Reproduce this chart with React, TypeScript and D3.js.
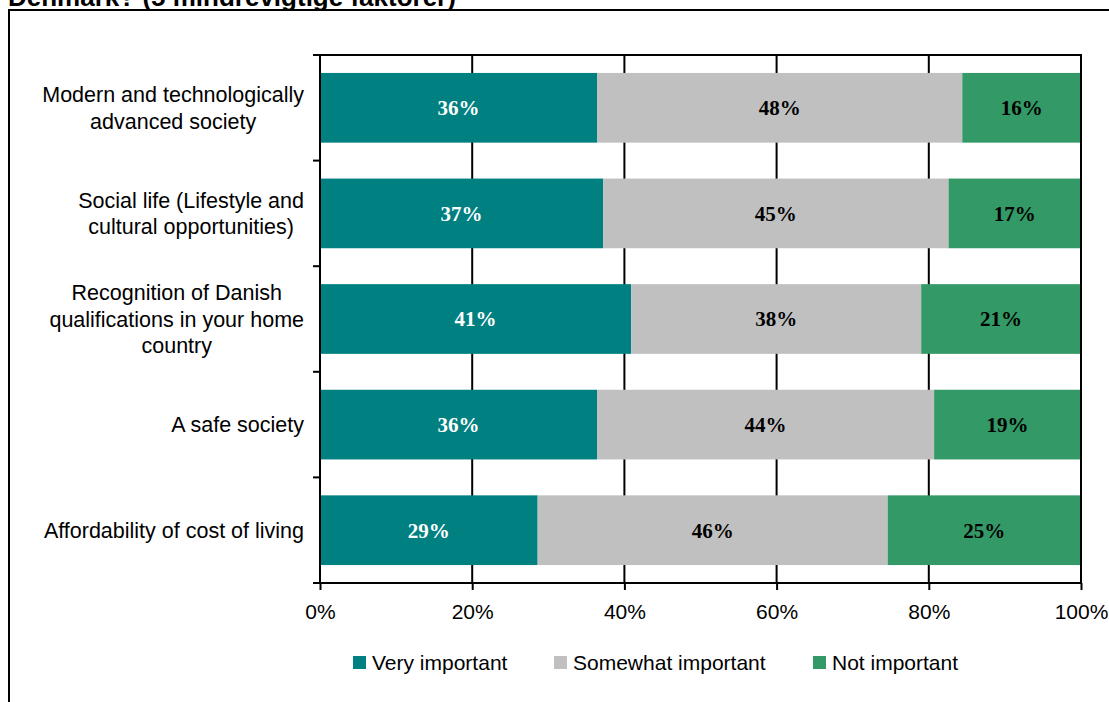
import { useEffect, useRef } from "react";
import * as d3 from "d3";

const categories = [
  ["Modern and technologically", "advanced society"],
  ["Social life (Lifestyle and", "cultural opportunities)"],
  ["Recognition of Danish", "qualifications in your home", "country"],
  ["A safe society"],
  ["Affordability of cost of living"],
];
const seriesNames = ["Very important", "Somewhat important", "Not important"];
const veryImportant = [36.4, 37.2, 40.9, 36.4, 28.6];
const somewhatImportant = [48.0, 45.4, 38.1, 44.3, 46.0];
const notImportant = [15.6, 17.4, 21.0, 19.3, 25.4];
const xTicks = [0, 20, 40, 60, 80, 100];
const colors = ["#008080", "#C0C0C0", "#339966"];
const labelColors = ["#ffffff", "#000000", "#000000"];

const W = 1109;
const H = 702;
const plot = { left: 320, right: 1081, top: 55, bottom: 583 };
const sans = "'Liberation Sans', Arial, sans-serif";
const serif = "'Liberation Serif', 'Times New Roman', serif";

const App = () => {
  const svgRef = useRef(null);
  const renderRef = useRef(false);

  useEffect(() => {
    if (renderRef.current) return;
    renderRef.current = true;

    const svg = d3.select(svgRef.current);

    // title tail (cut off at the top, as in the source) and chart frame
    svg.append("text")
      .attr("x", 8)
      .attr("y", 6)
      .attr("font-family", sans)
      .attr("font-weight", "bold")
      .attr("font-size", 26)
      .text("Denmark? (5 mindrevigtige faktorer)");
    svg.append("rect")
      .attr("x", 9).attr("y", 10)
      .attr("width", W + 20).attr("height", H + 20)
      .attr("fill", "none").attr("stroke", "#000").attr("stroke-width", 2);

    const x = d3.scaleLinear().domain([0, 100]).range([plot.left, plot.right]);
    const y = d3.scaleBand()
      .domain(d3.range(categories.length).map(String))
      .range([plot.top, plot.bottom])
      .paddingInner(0.34)
      .paddingOuter(0.17);

    // gridlines behind the bars
    svg.append("g")
      .selectAll("line")
      .data(xTicks.slice(1, -1))
      .join("line")
      .attr("x1", d => x(d)).attr("x2", d => x(d))
      .attr("y1", plot.top).attr("y2", plot.bottom)
      .attr("stroke", "#000").attr("stroke-width", 2);

    const data = categories.map((c, i) => [veryImportant[i], somewhatImportant[i], notImportant[i]]);

    // bars
    data.forEach((vals, i) => {
      let acc = 0;
      vals.forEach((v, s) => {
        const x0 = x(acc);
        const x1 = x(acc + v);
        acc += v;
        svg.append("rect")
          .attr("x", x0)
          .attr("y", y(String(i)))
          .attr("width", x1 - x0)
          .attr("height", y.bandwidth())
          .attr("fill", colors[s]);
        svg.append("text")
          .attr("x", (x0 + x1) / 2)
          .attr("y", y(String(i)) + y.bandwidth() / 2)
          .attr("dy", "0.35em")
          .attr("text-anchor", "middle")
          .attr("font-family", serif)
          .attr("font-weight", "bold")
          .attr("font-size", 21)
          .attr("fill", labelColors[s])
          .text(`${Math.round(v)}%`);
      });
    });

    // plot border: top and right
    svg.append("path")
      .attr("d", `M${plot.left},${plot.top}H${plot.right}V${plot.bottom}`)
      .attr("fill", "none")
      .attr("stroke", "#000").attr("stroke-width", 2);

    // left axis with ticks at category boundaries
    const boundaries = d3.range(categories.length + 1).map(k => plot.top + k * y.step());
    svg.append("line")
      .attr("x1", plot.left).attr("x2", plot.left)
      .attr("y1", plot.top).attr("y2", plot.bottom)
      .attr("stroke", "#000").attr("stroke-width", 2);
    svg.append("g")
      .selectAll("line")
      .data(boundaries)
      .join("line")
      .attr("x1", plot.left - 7).attr("x2", plot.left)
      .attr("y1", d => d).attr("y2", d => d)
      .attr("stroke", "#000").attr("stroke-width", 2);

    // bottom axis
    const xAxis = svg.append("g")
      .attr("transform", `translate(0,${plot.bottom})`)
      .call(d3.axisBottom(x).tickValues(xTicks).tickSize(7).tickPadding(14).tickFormat(d => `${d}%`));
    xAxis.select(".domain").attr("stroke", "#000").attr("stroke-width", 2).attr("d", `M${plot.left - 7},0H${plot.right}`);
    xAxis.selectAll(".tick line").attr("stroke", "#000").attr("stroke-width", 2);
    xAxis.selectAll(".tick text")
      .attr("font-family", sans)
      .attr("font-size", 21)
      .attr("fill", "#000");

    // category labels: centred block, widest line ending at x=304
    categories.forEach((lines, i) => {
      const cy = y(String(i)) + y.bandwidth() / 2;
      const lh = 26.5;
      const g = svg.append("g");
      const texts = lines.map((ln, k) =>
        g.append("text")
          .attr("x", 0)
          .attr("y", cy + (k - (lines.length - 1) / 2) * lh)
          .attr("dy", "0.35em")
          .attr("text-anchor", "middle")
          .attr("font-family", sans)
          .attr("font-size", 21.5)
          .attr("fill", "#000")
          .text(ln)
      );
      const maxW = d3.max(texts, t => (t.node() as SVGTextElement).getComputedTextLength()) || 0;
      g.attr("transform", `translate(${304 - maxW / 2},0)`);
    });

    // legend
    const legendX = [353, 554, 813];
    seriesNames.forEach((name, s) => {
      svg.append("rect")
        .attr("x", legendX[s]).attr("y", 656)
        .attr("width", 13).attr("height", 13)
        .attr("fill", colors[s]);
      svg.append("text")
        .attr("x", legendX[s] + 19)
        .attr("y", 662.5)
        .attr("dy", "0.35em")
        .attr("font-family", sans)
        .attr("font-size", 21)
        .attr("fill", "#000")
        .text(name);
    });
  }, []);

  return (
    <svg
      ref={svgRef}
      width={W}
      height={H}
      style={{ position: "absolute", left: 0, top: 0, background: "#fff" }}
    ></svg>
  );
};

export default App;
